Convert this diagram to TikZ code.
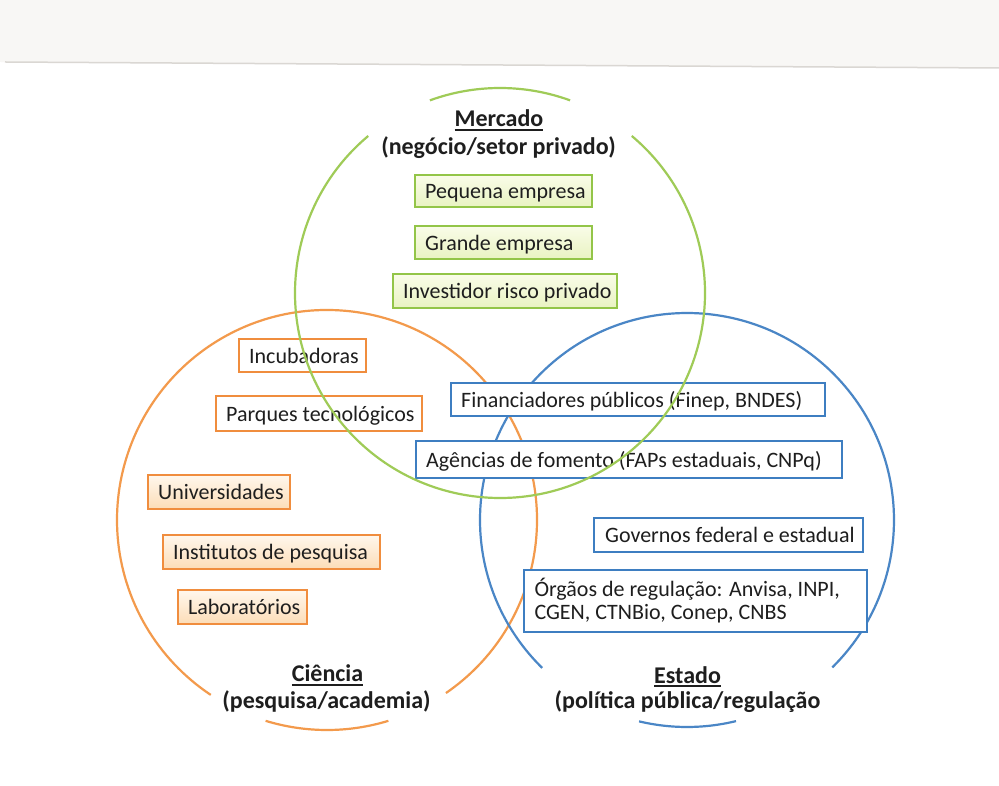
\documentclass[tikz,border=0pt]{standalone}
\usepackage{fontspec}
\setmainfont{Carlito}
\definecolor{gcl}{HTML}{9FCB57}
\definecolor{gbd}{HTML}{93C548}
\definecolor{gtp}{HTML}{F9FCE8}
\definecolor{gbt}{HTML}{E9F3C2}
\definecolor{ocl}{HTML}{F39A4C}
\definecolor{obd}{HTML}{F08D3E}
\definecolor{otp}{HTML}{FFF7EC}
\definecolor{obt}{HTML}{FCDDB8}
\definecolor{bcl}{HTML}{4A86C6}
\definecolor{bbd}{HTML}{3E7EC1}
\definecolor{txt}{HTML}{1E1E1E}
\definecolor{band}{HTML}{F8F7F5}
\definecolor{scan}{HTML}{DAD7D3}
\newcommand{\lbx}[2]{\makebox[#1][l]{#2}}
\newcommand{\myul}[1]{\vtop{\hbox{#1}\kern2pt\hrule height1.8pt}}
\begin{document}
\begin{tikzpicture}[x=1pt,y=1pt,
  circ/.style={line width=2.2pt},
  boxbase/.style={line width=2.3pt, inner xsep=10pt, inner ysep=0pt, text height=15.5pt, text depth=0pt, font=\fontsize{22}{24}\selectfont, text=txt},
  gbox/.style={boxbase, draw=gbd, top color=gtp, bottom color=gbt},
  obox/.style={boxbase, draw=obd, fill=white},
  oboxf/.style={boxbase, draw=obd, top color=otp, bottom color=obt},
  bbox/.style={boxbase, draw=bbd, fill=white},
  lab/.style={anchor=base, inner sep=0pt, font=\bfseries\fontsize{24}{28}\selectfont, text=txt}]

\useasboundingbox (0,0) rectangle (999,785);
\fill[white] (0,0) rectangle (999,785);
% scan band at top
\fill[band] (0,723) -- (999,717) -- (999,785) -- (0,785) -- cycle;
\draw[scan, line width=1.5pt] (5,723) -- (999,717);

% centres
\coordinate (gc) at (500,492);
\coordinate (oc) at (327,265);
\coordinate (bc) at (687,265);

% orange circle (Ciencia)
\draw[circ, draw=ocl] (oc) ++(253:210) arc[start angle=253, end angle=287, radius=210];
\draw[circ, draw=ocl] (oc) ++(304.5:210) arc[start angle=304.5, end angle=596.4, radius=210];
% blue circle (Estado)
\draw[circ, draw=bcl] (bc) ++(256.6:207) arc[start angle=256.6, end angle=283.7, radius=207];
\draw[circ, draw=bcl] (bc) ++(314.6:207) arc[start angle=314.6, end angle=585.6, radius=207];

% Mercado boxes
\node[gbox, minimum width=176.7pt, minimum height=31.7pt] (peq) at (503.5,594) {\lbx{156.7pt}{Pequena empresa}};
\node[gbox, minimum width=176.7pt, minimum height=32.7pt] (gra) at (503.5,542.5) {\lbx{156.7pt}{Grande empresa}};
\node[gbox, minimum width=223.7pt, minimum height=33.7pt] (inv) at (505,494) {\lbx{203.7pt}{Investidor risco privado}};

% Ciencia boxes
\node[obox, minimum width=126.7pt, minimum height=32.7pt] (inc) at (302.5,429.5) {\lbx{106.7pt}{Incubadoras}};
\node[obox, minimum width=205.7pt, minimum height=34.7pt] (par) at (319,371.5) {\lbx{185.7pt}{Parques tecnológicos}};
\node[oboxf, minimum width=141.7pt, minimum height=33.7pt] (uni) at (219,293) {\lbx{121.7pt}{Universidades}};
\node[oboxf, minimum width=216.7pt, minimum height=33.7pt] (ins) at (271.5,233) {\lbx{196.7pt}{Institutos de pesquisa}};
\node[oboxf, minimum width=128.7pt, minimum height=33.7pt] (lab) at (242.5,178) {\lbx{108.7pt}{Laboratórios}};

% Estado boxes
\node[bbox, minimum width=373.7pt, minimum height=32.7pt] (fin) at (638,385.5) {\lbx{353.7pt}{Financiadores públicos (Finep, BNDES)}};
\node[bbox, minimum width=425.7pt, minimum height=36.7pt] (age) at (629,325.5) {\lbx{405.7pt}{Agências de fomento (FAPs estaduais, CNPq)}};
\node[bbox, minimum width=268.7pt, minimum height=33.7pt, inner xsep=11pt] (gov) at (728.5,250) {\lbx{246.7pt}{Governos federal e estadual}};
\node[bbox, minimum width=342.7pt, minimum height=61.7pt, text height=14pt, text depth=23pt] (org) at (695.5,184)
  {\parbox[t]{322pt}{\fontsize{22}{23}\selectfont Órgãos de regulação: Anvisa, INPI,\\CGEN, CTNBio, Conep, CNBS}};

% green circle (Mercado) on top
\draw[circ, draw=gcl] (gc) ++(70:205) arc[start angle=70, end angle=110, radius=205];
\draw[circ, draw=gcl] (gc) ++(130:205) arc[start angle=130, end angle=410, radius=205];

% labels
\node[lab] (mer1) at (499,658) {\myul{Mercado}};
\node[lab] (mer2) at (498.5,630) {(negócio/setor privado)};
\node[lab] (cie1) at (327.5,103) {\myul{Ciência}};
\node[lab] (cie2) at (326.5,77) {(pesquisa/academia)};
\node[lab] (est1) at (687.5,102) {\myul{Estado}};
\node[lab] (est2) at (687.5,77) {(política pública/regulação};
\end{tikzpicture}
\end{document}
